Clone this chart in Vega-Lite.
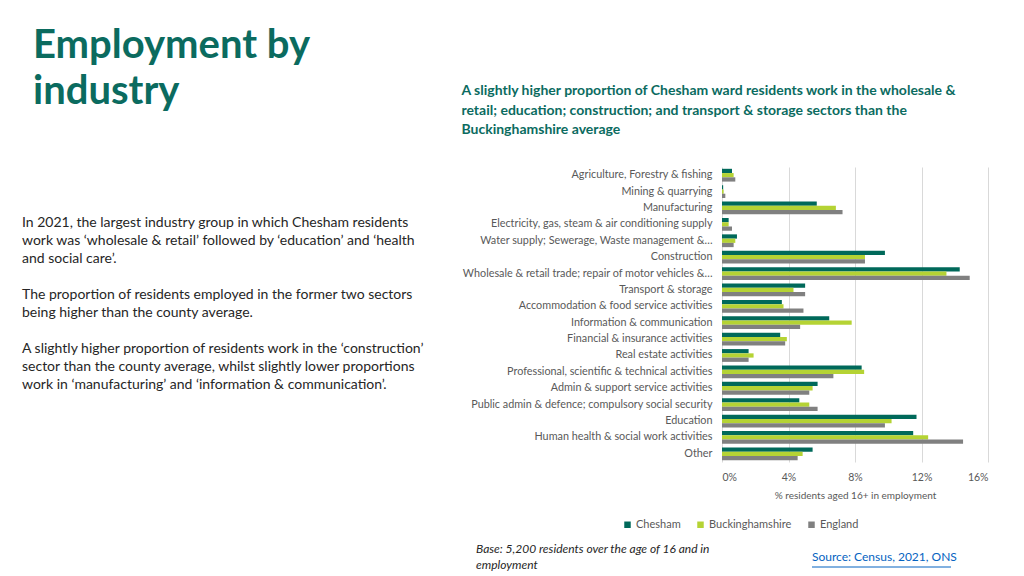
{
  "$schema": "https://vega.github.io/schema/vega-lite/v6.json",
  "padding": {"left": 22, "top": 26, "right": 5, "bottom": 5},
  "bounds": "flush",
  "spacing": 300,
  "config": {"view": {"stroke": null}, "font": "Lato"},
  "hconcat": [
    {
      "width": 400,
      "height": 295,
      "title": {"text": ["Employment by", "industry"], "anchor": "start", "frame": "group", "fontSize": 40, "fontWeight": "bold", "color": "#0B6B5F", "lineHeight": 46, "dx": 11, "offset": 55},
      "layer": [
        {
          "data": {"values": [{"t": "In 2021, the largest industry group in which Chesham residents\nwork was ‘wholesale & retail’ followed by ‘education’ and ‘health\nand social care’."}]},
          "mark": {"type": "text", "align": "left", "baseline": "top", "fontSize": 14, "lineHeight": 18, "lineBreak": "\n", "color": "#262626"},
          "encoding": {"text": {"field": "t"}, "x": {"value": 0}, "y": {"value": 49}}
        },
        {
          "data": {"values": [{"t": "The proportion of residents employed in the former two sectors\nbeing higher than the county average."}]},
          "mark": {"type": "text", "align": "left", "baseline": "top", "fontSize": 14, "lineHeight": 18, "lineBreak": "\n", "color": "#262626"},
          "encoding": {"text": {"field": "t"}, "x": {"value": 0}, "y": {"value": 121}}
        },
        {
          "data": {"values": [{"t": "A slightly higher proportion of residents work in the ‘construction’\nsector than the county average, whilst slightly lower proportions\nwork in ‘manufacturing’ and ‘information & communication’."}]},
          "mark": {"type": "text", "align": "left", "baseline": "top", "fontSize": 14, "lineHeight": 18, "lineBreak": "\n", "color": "#262626"},
          "encoding": {"text": {"field": "t"}, "x": {"value": 0}, "y": {"value": 175}}
        },
        {
          "data": {"values": [{"t": "Base: 5,200 residents over the age of 16 and in\nemployment"}]},
          "mark": {"type": "text", "align": "left", "baseline": "top", "fontSize": 12, "fontStyle": "italic", "lineHeight": 16, "lineBreak": "\n", "color": "#262626"},
          "encoding": {"text": {"field": "t"}, "x": {"value": 454}, "y": {"value": 377}}
        },
        {
          "data": {"values": [{"t": "Source: Census, 2021, ONS"}]},
          "mark": {"type": "text", "align": "left", "baseline": "top", "fontSize": 12, "color": "#0563C1"},
          "encoding": {"text": {"field": "t"}, "x": {"value": 790}, "y": {"value": 385}}
        },
        {
          "data": {"values": [{"t": "Source: Census, 2021, ONS"}]},
          "mark": {"type": "rule", "color": "#0563C1", "strokeWidth": 1},
          "encoding": {"x": {"value": 790}, "x2": {"value": 929}, "y": {"value": 400}}
        }
      ]
    },
    {
      "width": 266,
      "height": 295,
      "title": {"text": ["A slightly higher proportion of Chesham ward residents work in the wholesale &", "retail; education; construction; and transport & storage sectors than the", "Buckinghamshire average"], "anchor": "start", "frame": "bounds", "fontSize": 14, "fontWeight": "bold", "color": "#0B6B5F", "lineHeight": 19.5, "offset": 30},
      "data": {"values": [
        {"industry": "Agriculture, Forestry & fishing", "area": "Chesham", "pct": 0.6},
        {"industry": "Agriculture, Forestry & fishing", "area": "Buckinghamshire", "pct": 0.7},
        {"industry": "Agriculture, Forestry & fishing", "area": "England", "pct": 0.8},
        {"industry": "Mining & quarrying", "area": "Chesham", "pct": 0.07},
        {"industry": "Mining & quarrying", "area": "Buckinghamshire", "pct": 0.1},
        {"industry": "Mining & quarrying", "area": "England", "pct": 0.2},
        {"industry": "Manufacturing", "area": "Chesham", "pct": 5.7},
        {"industry": "Manufacturing", "area": "Buckinghamshire", "pct": 6.85},
        {"industry": "Manufacturing", "area": "England", "pct": 7.25},
        {"industry": "Electricity, gas, steam & air conditioning supply", "area": "Chesham", "pct": 0.4},
        {"industry": "Electricity, gas, steam & air conditioning supply", "area": "Buckinghamshire", "pct": 0.4},
        {"industry": "Electricity, gas, steam & air conditioning supply", "area": "England", "pct": 0.6},
        {"industry": "Water supply; Sewerage, Waste management &…", "area": "Chesham", "pct": 0.9},
        {"industry": "Water supply; Sewerage, Waste management &…", "area": "Buckinghamshire", "pct": 0.8},
        {"industry": "Water supply; Sewerage, Waste management &…", "area": "England", "pct": 0.7},
        {"industry": "Construction", "area": "Chesham", "pct": 9.8},
        {"industry": "Construction", "area": "Buckinghamshire", "pct": 8.6},
        {"industry": "Construction", "area": "England", "pct": 8.6},
        {"industry": "Wholesale & retail trade; repair of motor vehicles &…", "area": "Chesham", "pct": 14.3},
        {"industry": "Wholesale & retail trade; repair of motor vehicles &…", "area": "Buckinghamshire", "pct": 13.5},
        {"industry": "Wholesale & retail trade; repair of motor vehicles &…", "area": "England", "pct": 14.9},
        {"industry": "Transport & storage", "area": "Chesham", "pct": 5.0},
        {"industry": "Transport & storage", "area": "Buckinghamshire", "pct": 4.3},
        {"industry": "Transport & storage", "area": "England", "pct": 5.0},
        {"industry": "Accommodation & food service activities", "area": "Chesham", "pct": 3.6},
        {"industry": "Accommodation & food service activities", "area": "Buckinghamshire", "pct": 3.7},
        {"industry": "Accommodation & food service activities", "area": "England", "pct": 4.9},
        {"industry": "Information & communication", "area": "Chesham", "pct": 6.45},
        {"industry": "Information & communication", "area": "Buckinghamshire", "pct": 7.8},
        {"industry": "Information & communication", "area": "England", "pct": 4.7},
        {"industry": "Financial & insurance activities", "area": "Chesham", "pct": 3.5},
        {"industry": "Financial & insurance activities", "area": "Buckinghamshire", "pct": 3.9},
        {"industry": "Financial & insurance activities", "area": "England", "pct": 3.8},
        {"industry": "Real estate activities", "area": "Chesham", "pct": 1.6},
        {"industry": "Real estate activities", "area": "Buckinghamshire", "pct": 1.9},
        {"industry": "Real estate activities", "area": "England", "pct": 1.6},
        {"industry": "Professional, scientific & technical activities", "area": "Chesham", "pct": 8.4},
        {"industry": "Professional, scientific & technical activities", "area": "Buckinghamshire", "pct": 8.55},
        {"industry": "Professional, scientific & technical activities", "area": "England", "pct": 6.7},
        {"industry": "Admin & support service activities", "area": "Chesham", "pct": 5.75},
        {"industry": "Admin & support service activities", "area": "Buckinghamshire", "pct": 5.45},
        {"industry": "Admin & support service activities", "area": "England", "pct": 5.25},
        {"industry": "Public admin & defence; compulsory social security", "area": "Chesham", "pct": 4.65},
        {"industry": "Public admin & defence; compulsory social security", "area": "Buckinghamshire", "pct": 5.25},
        {"industry": "Public admin & defence; compulsory social security", "area": "England", "pct": 5.75},
        {"industry": "Education", "area": "Chesham", "pct": 11.7},
        {"industry": "Education", "area": "Buckinghamshire", "pct": 10.2},
        {"industry": "Education", "area": "England", "pct": 9.8},
        {"industry": "Human health & social work activities", "area": "Chesham", "pct": 11.5},
        {"industry": "Human health & social work activities", "area": "Buckinghamshire", "pct": 12.4},
        {"industry": "Human health & social work activities", "area": "England", "pct": 14.5},
        {"industry": "Other", "area": "Chesham", "pct": 5.45},
        {"industry": "Other", "area": "Buckinghamshire", "pct": 4.85},
        {"industry": "Other", "area": "England", "pct": 4.55}
      ]},
      "mark": {"type": "bar"},
      "encoding": {
        "y": {"field": "industry", "type": "nominal", "sort": null, "scale": {"paddingInner": 0.22, "paddingOuter": 0.11}, "axis": {"title": null, "labelFontSize": 10.8, "labelColor": "#595959", "labelPadding": 10, "ticks": false, "domain": false, "labelLimit": 400, "grid": false}},
        "yOffset": {"field": "area", "type": "nominal", "sort": ["Chesham", "Buckinghamshire", "England"]},
        "x": {"field": "pct", "type": "quantitative", "scale": {"domain": [0, 16]}, "axis": {"values": [0, 4, 8, 12, 16], "labelExpr": "datum.value + '%'", "title": "% residents aged 16+ in employment", "titleFontSize": 10, "titleColor": "#595959", "titleFontWeight": "normal", "titlePadding": 8, "labelFontSize": 10.5, "labelColor": "#595959", "labelPadding": 10, "domain": false, "ticks": false, "gridColor": "#D9D9D9"}},
        "color": {"field": "area", "type": "nominal", "scale": {"domain": ["Chesham", "Buckinghamshire", "England"], "range": ["#00695A", "#B5D334", "#808080"]}, "legend": {"orient": "none", "legendX": 600, "legendY": 352, "direction": "horizontal", "title": null, "symbolType": "square", "symbolSize": 42, "symbolStrokeWidth": 0, "labelFontSize": 11, "labelColor": "#595959", "columnPadding": 14, "labelOffset": 3}}
      }
    }
  ]
}
